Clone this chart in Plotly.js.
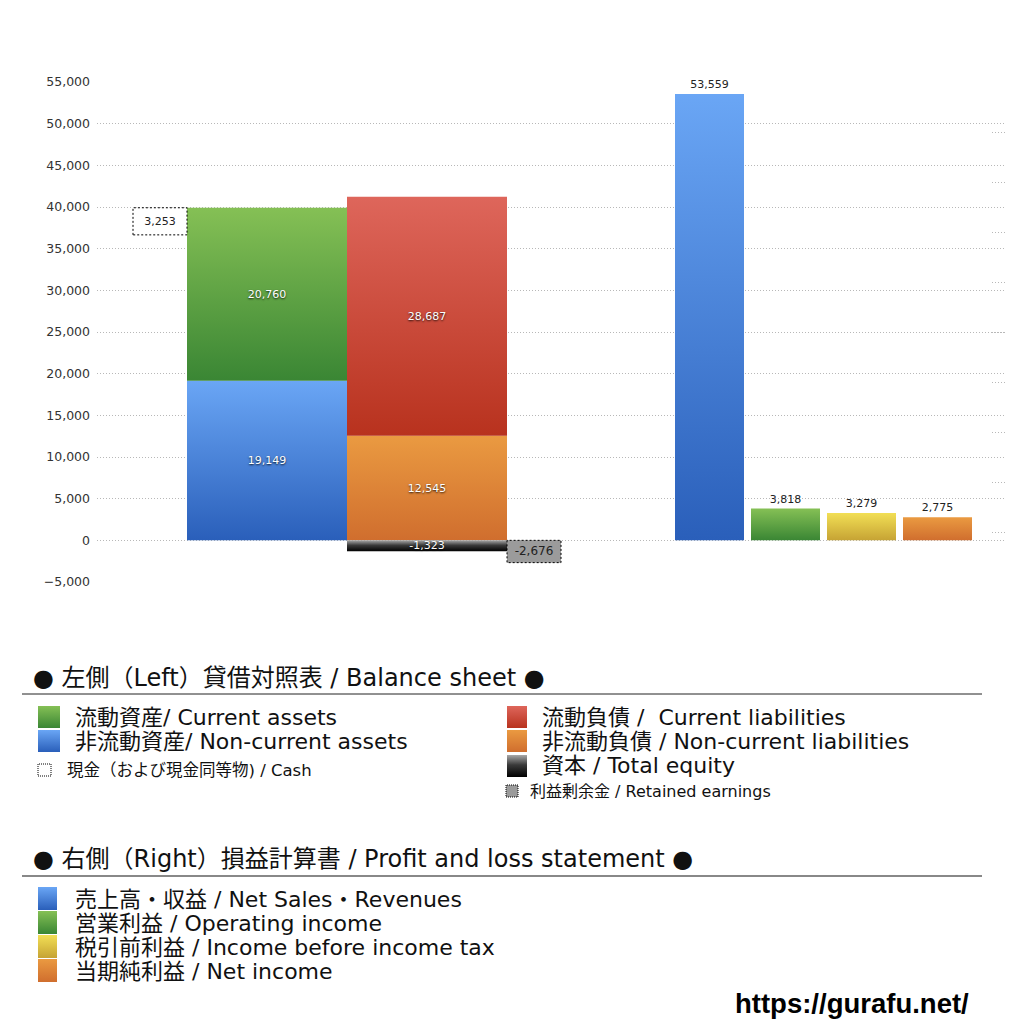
<!DOCTYPE html>
<html>
<head>
<meta charset="utf-8">
<script src="https://cdn.plot.ly/plotly-3.0.1.min.js"></script>
<style>
  html, body { margin: 0; padding: 0; background: #fff; }
  #chart { width: 1024px; height: 1024px; }
</style>
</head>
<body>
<div id="chart"></div>
<script>
// balance sheet (left)
var assetNames = ['非流動資産/ Non-current assets', '流動資産/ Current assets'];
var assetValues = [19149, 20760];
var cashName = '現金（および現金同等物) / Cash';
var cashValue = 3253;
var liabilityNames = ['非流動負債 / Non-current liabilities', '流動負債 /  Current liabilities'];
var liabilityValues = [12545, 28687];
var equityName = '資本 / Total equity';
var equityValue = -1323;
var retainedName = '利益剰余金 / Retained earnings';
var retainedValue = -2676;

// profit and loss (right)
var plNames = ['売上高・収益 / Net Sales・Revenues', '営業利益 / Operating income',
               '税引前利益 / Income before income tax', '当期純利益 / Net income'];
var plValues = [53559, 3818, 3279, 2775];

var FONT = '"DejaVu Sans", "Noto Sans CJK JP", sans-serif';
var URLFONT = '"Liberation Sans", "DejaVu Sans", sans-serif';

var gradients = {
  blue:   [[0, '#6aa6f5'], [1, '#2a5fba']],
  green:  [[0, '#85c055'], [1, '#3a8634']],
  red:    [[0, '#de665b'], [1, '#b8321e']],
  orange: [[0, '#ea9a41'], [1, '#d06e2e']],
  yellow: [[0, '#f2df55'], [1, '#c6a334']],
  black:  [[0, '#a8a8a8'], [0.45, '#3a3a3a'], [1, '#000000']]
};

// plot area in page pixels
var PL = 97, PR = 1005, PT = 82, PB = 582;
function px(x) { return (x - PL) / (PR - PL); }
function py(y) { return (PB - y) / (PB - PT); }

// slot centres / widths on the hidden x axis (pixels from plot left)
var assetX = 170, liabX = 330, cashX = 63, retainedX = 437;
var plX = [612.5, 688.5, 764.5, 840.5];
var wideW = 160, boxW = 54, plW = 69;

function fmt(v) { return v.toLocaleString('en-US'); }

var insideFont = {family: FONT, size: 11, color: '#ffffff', shadow: '0px 1px 2px rgba(0,0,0,0.85)'};

var data = [
  {
    type: 'bar', x: [assetX], y: [assetValues[0]], base: [0], width: [wideW],
    marker: {color: '#4a86d8'}, meta: {grad: 'blue'},
    text: [fmt(assetValues[0])], textposition: 'inside', insidetextanchor: 'middle',
    insidetextfont: insideFont, hoverinfo: 'skip'
  },
  {
    type: 'bar', x: [assetX], y: [assetValues[1]], base: [assetValues[0]], width: [wideW],
    marker: {color: '#5fa345'}, meta: {grad: 'green'},
    text: [fmt(assetValues[1])], textposition: 'inside', insidetextanchor: 'middle',
    insidetextfont: insideFont, hoverinfo: 'skip'
  },
  {
    type: 'bar', x: [cashX], y: [cashValue], base: [assetValues[0] + assetValues[1] - cashValue], width: [boxW],
    marker: {color: '#ffffff', line: {color: '#000000', width: 1}}, meta: {dash: true},
    text: [fmt(cashValue)], textposition: 'inside', insidetextanchor: 'middle',
    insidetextfont: {family: FONT, size: 11, color: '#222'}, hoverinfo: 'skip'
  },
  {
    type: 'bar', x: [liabX], y: [liabilityValues[0]], base: [0], width: [wideW],
    marker: {color: '#df8538'}, meta: {grad: 'orange'},
    text: [fmt(liabilityValues[0])], textposition: 'inside', insidetextanchor: 'middle',
    insidetextfont: insideFont, hoverinfo: 'skip'
  },
  {
    type: 'bar', x: [liabX], y: [liabilityValues[1]], base: [liabilityValues[0]], width: [wideW],
    marker: {color: '#cc4c3c'}, meta: {grad: 'red'},
    text: [fmt(liabilityValues[1])], textposition: 'inside', insidetextanchor: 'middle',
    insidetextfont: insideFont, hoverinfo: 'skip'
  },
  {
    type: 'bar', x: [liabX], y: [equityValue], base: [0], width: [wideW],
    marker: {color: '#333333'}, meta: {grad: 'black'},
    text: [fmt(equityValue)], textposition: 'inside', insidetextanchor: 'middle',
    constraintext: 'none', insidetextfont: insideFont, hoverinfo: 'skip'
  },
  {
    type: 'bar', x: [retainedX], y: [retainedValue], base: [0], width: [boxW],
    marker: {color: '#9b9b9b', line: {color: '#000000', width: 1}}, meta: {dash: true},
    text: [fmt(retainedValue)], textposition: 'inside', insidetextanchor: 'middle',
    insidetextfont: {family: FONT, size: 12, color: '#222'}, hoverinfo: 'skip'
  },
  {
    type: 'bar', x: plX, y: plValues, width: plW,
    marker: {color: ['#4a86d8', '#5fa345', '#dcc245', '#df8538']},
    meta: {grad: ['blue', 'green', 'yellow', 'orange']},
    text: plValues.map(fmt), textposition: 'outside', cliponaxis: false,
    outsidetextfont: {family: FONT, size: 11, color: '#222'}, hoverinfo: 'skip'
  },
  // carrier for the short right-hand marks
  {
    type: 'scatter', x: [0], y: [0], yaxis: 'y2', mode: 'markers',
    marker: {opacity: 0}, hoverinfo: 'skip', showlegend: false
  }
];

var shapes = [];
var shapeGrad = [];
var annotations = [];

function swatch(x0, y0, x1, y1, grad, fill, dashed) {
  shapes.push({
    type: 'rect', xref: 'paper', yref: 'paper',
    x0: px(x0), x1: px(x1), y0: py(y1), y1: py(y0),
    fillcolor: fill,
    line: dashed ? {color: '#000', width: 1, dash: '1px,1px'} : {width: 0}
  });
  shapeGrad.push(grad);
}
function label(x, y, text, size, opts) {
  opts = opts || {};
  annotations.push({
    xref: 'paper', yref: 'paper', x: px(x), y: py(y),
    xanchor: opts.anchor || 'left', yanchor: 'middle', showarrow: false,
    text: text,
    font: {family: opts.family || FONT, size: size, color: opts.color || '#111', weight: opts.weight || 'normal'}
  });
}
function rule(y, color, width) {
  shapes.push({
    type: 'line', xref: 'paper', yref: 'paper',
    x0: px(22), x1: px(982), y0: py(y), y1: py(y),
    line: {color: color, width: width}
  });
  shapeGrad.push(null);
}

// left legend block
label(31, 678, '● 左側（Left）貸借対照表 / Balance sheet ●', 24);
rule(694, '#222', 1);
swatch(38, 706, 60, 728, 'green', '#5fa345');
label(73, 717, assetNames[1], 22);
swatch(38, 730, 60, 752, 'blue', '#4a86d8');
label(73, 741, assetNames[0], 22);
swatch(38, 764, 51, 776, null, '#ffffff', true);
label(65, 770, cashName, 16.5);
swatch(507, 706, 527, 728, 'red', '#cc4c3c');
label(540, 717, liabilityNames[1], 22);
swatch(507, 730, 527, 752, 'orange', '#df8538');
label(540, 741, liabilityNames[0], 22);
swatch(507, 755, 527, 777, 'black', '#333');
label(540, 766, equityName, 22);
swatch(506, 785, 518, 797, null, '#9b9b9b', true);
label(528, 791, retainedName, 16);

// right legend block
label(31, 859, '● 右側（Right）損益計算書 / Profit and loss statement ●', 24);
rule(876, '#888', 2);
var plGrad = ['blue', 'green', 'yellow', 'orange'];
var plFill = ['#4a86d8', '#5fa345', '#dcc245', '#df8538'];
for (var i = 0; i < plNames.length; i++) {
  var cy = 899 + i * 24;
  swatch(38, cy - 12, 57, cy + 11, plGrad[i], plFill[i]);
  label(73, cy, plNames[i], 22);
}
label(971, 1003, 'https://gurafu.net/', 27.5, {anchor: 'right', weight: 'bold', color: '#000', family: URLFONT});

var layout = {
  width: 1024, height: 1024,
  margin: {l: PL, r: 1024 - PR, t: PT, b: 1024 - PB, pad: 0},
  paper_bgcolor: '#ffffff', plot_bgcolor: '#ffffff',
  barmode: 'overlay', showlegend: false,
  separators: '.,',
  xaxis: {range: [0, PR - PL], visible: false, fixedrange: true},
  yaxis: {
    range: [-5000, 55000], dtick: 5000, tickformat: ',d',
    showgrid: true, gridcolor: '#b8b8b8', griddash: '1px,2px', gridwidth: 1,
    zeroline: false, showline: false, ticks: '', ticklabelstandoff: 6,
    tickfont: {family: FONT, size: 12.5, color: '#333'}, fixedrange: true
  },
  yaxis2: {
    overlaying: 'y', side: 'right', range: [0, 10], dtick: 1,
    ticks: 'inside', ticklen: 14, tickcolor: '#b8b8b8', tickwidth: 1,
    showticklabels: false, showgrid: false, zeroline: false, showline: false, fixedrange: true
  },
  shapes: shapes,
  annotations: annotations
};

var config = {staticPlot: true, responsive: false};

var gd = document.getElementById('chart');

function ensureGradients() {
  var ns = 'http://www.w3.org/2000/svg';
  var svg = gd.querySelector('svg.main-svg');
  var defs = svg.querySelector('defs');
  Object.keys(gradients).forEach(function (id) {
    if (document.getElementById('grad-' + id)) return;
    var lg = document.createElementNS(ns, 'linearGradient');
    lg.setAttribute('id', 'grad-' + id);
    lg.setAttribute('x1', '0'); lg.setAttribute('y1', '0');
    lg.setAttribute('x2', '0'); lg.setAttribute('y2', '1');
    gradients[id].forEach(function (s) {
      var st = document.createElementNS(ns, 'stop');
      st.setAttribute('offset', s[0]);
      st.setAttribute('stop-color', s[1]);
      lg.appendChild(st);
    });
    defs.appendChild(lg);
  });
}

function paint() {
  ensureGradients();
  gd.querySelectorAll('.barlayer g.trace').forEach(function (g) {
    var cd = g.__data__;
    if (!cd || !cd[0]) return;
    var tr = cd[0].trace;
    var meta = tr.meta || (tr._input && tr._input.meta) || {};
    g.querySelectorAll('g.point path').forEach(function (p, i) {
      var grad = Array.isArray(meta.grad) ? meta.grad[i] : meta.grad;
      if (grad) p.style.fill = 'url(#grad-' + grad + ')';
      if (meta.dash) p.style.strokeDasharray = '2,2';
    });
  });
  gd.querySelectorAll('.shapelayer path[data-index]').forEach(function (p) {
    var grad = shapeGrad[+p.getAttribute('data-index')];
    if (grad) p.style.fill = 'url(#grad-' + grad + ')';
  });
  gd.querySelectorAll('path.y2tick').forEach(function (p) {
    p.style.strokeDasharray = '1,2';
  });
}

Plotly.newPlot(gd, data, layout, config).then(function () {
  paint();
  gd.on('plotly_afterplot', paint);
});
</script>
</body>
</html>
